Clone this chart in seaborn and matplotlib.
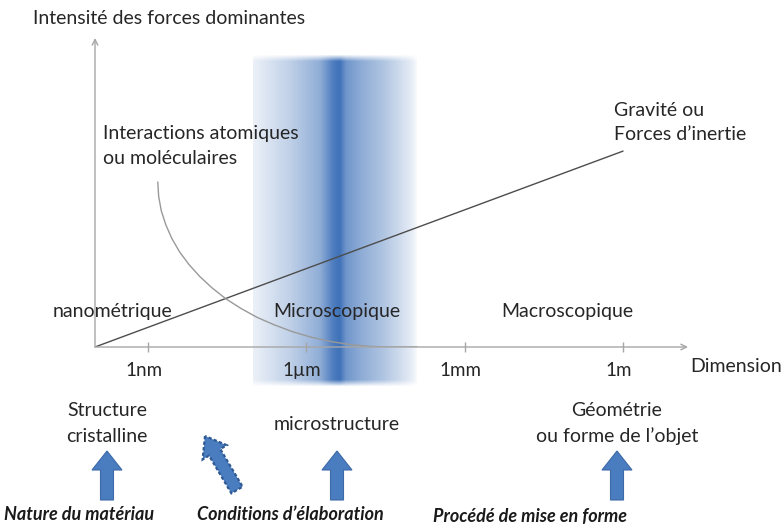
import matplotlib
matplotlib.use("Agg")
import matplotlib.pyplot as plt
import numpy as np
import seaborn as sns
from matplotlib.patches import FancyArrow

sns.set_style("white")
plt.rcParams['font.family'] = ['Lato', 'DejaVu Sans']

# dimension axis: log10 of size in metres
tick_pos = [-9, -6, -3, 0]
tick_labels = ['1nm', '1µm', '1mm', '1m']

# gravity / inertia forces (straight line from origin)
gravity_x = [-10.0, 0.0]
gravity_y = [0.0, 0.634]

# atomic / molecular interactions
inter_x = [-8.811, -8.794, -8.745, -8.660, -8.544, -8.399, -8.221, -8.015, -7.781, -7.522,
           -7.238, -6.932, -6.609, -6.268, -5.913, -5.546, -5.172, -4.790, -4.406, -3.9]
inter_y = [0.534, 0.487, 0.441, 0.396, 0.351, 0.308, 0.267, 0.228, 0.191, 0.156,
           0.125, 0.096, 0.072, 0.050, 0.032, 0.018, 0.008, 0.002, 0.0, 0.0]

scale_names = ['nanométrique', 'Microscopique', 'Macroscopique']

fig = plt.figure(figsize=(7.83, 5.24), dpi=100)
fig.patch.set_facecolor('white')

# main schematic axes (origin of the arrows at the lower left)
ax = fig.add_axes([95/783, 1 - 347/524, 593/783, 309/524])
ax.set_facecolor('none')
ax.axis('off')

# blue band for the microscopic range
base = np.array([63, 114, 185]) / 255
t = np.linspace(0, 1, 400)
stops_t = [0.0, 0.226, 0.409, 0.488, 0.53, 0.567, 0.652, 0.805, 0.957, 1.0]
stops_a = [0.10, 0.33, 0.58, 0.92, 1.0, 0.75, 0.60, 0.40, 0.15, 0.04]
a_x = np.interp(t, stops_t, stops_a)
v = np.linspace(0, 1, 300)
a_y = np.clip(np.minimum(v / 0.02, (1 - v) / 0.02), 0, 1)
alpha = a_y[:, None] * a_x[None, :]
img = np.ones((300, 400, 3)) * (1 - alpha[..., None]) + base * alpha[..., None]
ax.imshow(img, extent=(-7.0, -3.9, -0.13, 0.945), aspect='auto',
          interpolation='bilinear', clip_on=False, zorder=0)

sns.lineplot(x=gravity_x, y=gravity_y, ax=ax, color='#4d4d4d', lw=1.0, sort=False, zorder=3)
sns.lineplot(x=inter_x, y=inter_y, ax=ax, color='#999999', lw=1.0, sort=False, zorder=3)

ax.set_xlim(-10, 1.23)
ax.set_ylim(0, 1)

# axes drawn as arrows
axis_col = '#a6a6a6'
ax.annotate('', xy=(1.23, 0), xytext=(-10, 0), annotation_clip=False,
            arrowprops=dict(arrowstyle='->', color=axis_col, lw=1.0, shrinkA=0, shrinkB=0))
ax.annotate('', xy=(-10, 1.0), xytext=(-10, 0), annotation_clip=False,
            arrowprops=dict(arrowstyle='->', color=axis_col, lw=1.0, shrinkA=0, shrinkB=0))
ax.vlines(tick_pos, -0.016, 0.016, color=axis_col, lw=1.0, clip_on=False)
for p, lab in zip(tick_pos, tick_labels):
    ax.text(p - 0.08, -0.075, lab, ha='center', va='center', fontsize=13.5, color='#262626')

# overlay in pixel coordinates for text and block arrows
ov = fig.add_axes([0, 0, 1, 1], zorder=5)
ov.set_xlim(0, 783)
ov.set_ylim(524, 0)
ov.axis('off')
ov.set_facecolor('none')

txt = dict(fontsize=14, color='#262626')
ov.text(33, 19, 'Intensité des forces dominantes', ha='left', va='center', **txt)
ov.text(103, 134, 'Interactions atomiques', ha='left', va='center', **txt)
ov.text(103, 158, 'ou moléculaires', ha='left', va='center', **txt)
ov.text(614, 110, 'Gravité ou', ha='left', va='center', **txt)
ov.text(614, 134, 'Forces d\u2019inertie', ha='left', va='center', **txt)
for xc, name in zip([112, 337, 567], scale_names):
    ov.text(xc, 312, name, ha='center', va='center', **txt)
ov.text(690, 366, 'Dimension', ha='left', va='center', **txt)

ov.text(107, 411, 'Structure', ha='center', va='center', **txt)
ov.text(107, 436, 'cristalline', ha='center', va='center', **txt)
ov.text(337, 425, 'microstructure', ha='center', va='center', **txt)
ov.text(617, 411, 'Géométrie', ha='center', va='center', **txt)
ov.text(617, 436, 'ou forme de l\u2019objet', ha='center', va='center', **txt)

bold = dict(fontsize=13, color='#1a1a1a', fontweight='bold', fontstyle='italic')
ov.text(79, 515, 'Nature du matériau', ha='center', va='center', **bold)
ov.text(290, 515, 'Conditions d\u2019élaboration', ha='center', va='center', **bold)
ov.text(530, 516, 'Procédé de mise en forme', ha='center', va='center', **bold)

arrow_fc = '#4a7cc0'
arrow_ec = '#3d6aa8'
for xc in [107, 337, 617]:
    ov.add_patch(FancyArrow(xc, 500, 0, -49, width=13, head_width=30, head_length=19,
                            length_includes_head=True, fc=arrow_fc, ec=arrow_ec, lw=0.8))
ov.add_patch(FancyArrow(237, 490, -32, -54, width=13, head_width=28, head_length=19,
                        length_includes_head=True, fc=arrow_fc, ec='#2f5a94', lw=1.6,
                        linestyle=(0, (1.5, 1.0))))

fig.savefig('out.png', dpi=100)
